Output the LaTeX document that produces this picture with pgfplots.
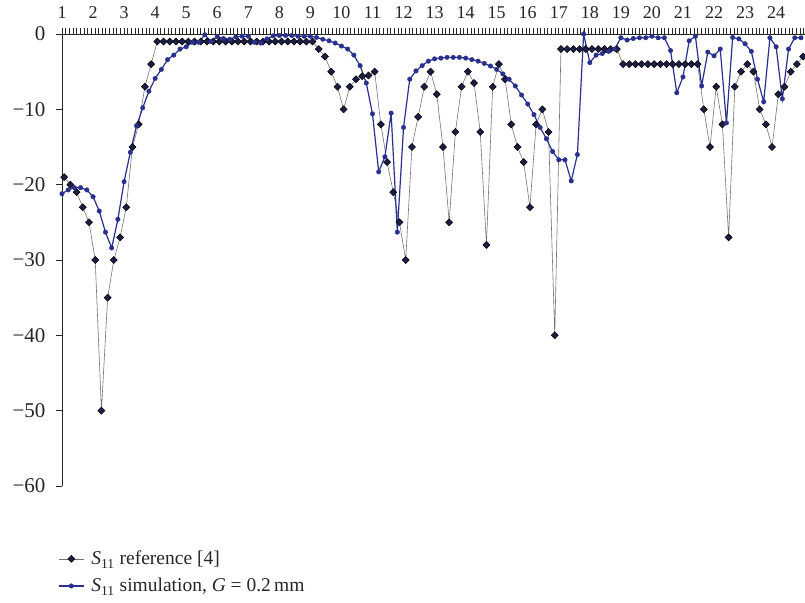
\documentclass[border=0pt]{standalone}
\usepackage{fontspec}
\setmainfont{Liberation Serif}
\usepackage{pgfplots}
\pgfplotsset{compat=1.18}
\definecolor{simblue}{RGB}{42,48,142}
\definecolor{refnavy}{RGB}{28,30,70}

\begin{document}
\begin{tikzpicture}
\useasboundingbox (0pt,0pt) rectangle (805pt,-602pt);
\begin{axis}[
    at={(62pt,-34pt)}, anchor=north west,
    scale only axis, width=743pt, height=452pt,
    xmin=1, xmax=24.93, ymin=-60, ymax=0,
    axis x line=top, axis y line=left,
    axis line style={-, black!85, line width=0.9pt},
    clip=false,
    tick align=outside,
    major tick length=6pt, minor tick length=6pt,
    tick style={black!85, line width=0.7pt},
    xtick={1,...,24}, major x tick style={draw=none},
    minor xtick={1,1.11765,...,24.93},
    ytick={-60,-50,...,0},
    yticklabels={−60,−50,−40,−30,−20,−10,0},
    /pgf/number format/assume math mode=true,
    xticklabel style={font=\fontsize{18}{18}\selectfont, color=black!85, yshift=6pt},
    yticklabel style={font=\fontsize{21}{21}\selectfont, color=black!85, xshift=-7pt},
    legend style={at={(-0.0094,-0.135)}, anchor=north west, draw=none, fill=none,
        font=\fontsize{19.5}{19.5}\selectfont, row sep=8pt, text=black!85,
        nodes={inner xsep=7pt}},
    legend cell align=left,
    legend image code/.code={
        \draw[mark repeat=2,mark phase=2,#1] plot coordinates {(0pt,0pt) (12.5pt,0pt) (25pt,0pt)};
    },
]
% reference data [4]
\addplot[black!55, line width=0.6pt, mark=square*,
    mark options={rotate=45, fill=refnavy, draw=black, line width=0.5pt, solid}, mark size=2.5pt]
coordinates {
(1.07,-19) (1.27,-20) (1.47,-21) (1.67,-23) (1.87,-25)
(2.07,-30) (2.27,-50) (2.47,-35) (2.67,-30) (2.87,-27)
(3.07,-23) (3.27,-15) (3.47,-12) (3.67,-7) (3.87,-4)
(4.07,-1) (4.27,-1) (4.47,-1) (4.67,-1) (4.87,-1)
(5.07,-1) (5.27,-1) (5.47,-1) (5.67,-1) (5.87,-1)
(6.07,-1) (6.27,-1) (6.47,-1) (6.67,-1) (6.87,-1)
(7.07,-1) (7.27,-1) (7.47,-1) (7.67,-1) (7.87,-1)
(8.07,-1) (8.27,-1) (8.47,-1) (8.67,-1) (8.87,-1)
(9.07,-1) (9.27,-2) (9.47,-3) (9.67,-5) (9.87,-7)
(10.07,-10) (10.27,-7) (10.47,-6) (10.67,-5.6) (10.87,-5.5)
(11.07,-5) (11.27,-12) (11.47,-17) (11.67,-21) (11.87,-25)
(12.07,-30) (12.27,-15) (12.47,-11) (12.67,-7) (12.87,-5)
(13.07,-8) (13.27,-15) (13.47,-25) (13.67,-13) (13.87,-7)
(14.07,-5) (14.27,-6.5) (14.47,-13) (14.67,-28) (14.87,-7)
(15.07,-4) (15.27,-6) (15.47,-12) (15.67,-15) (15.87,-17)
(16.07,-23) (16.27,-12) (16.47,-10) (16.67,-13) (16.87,-40)
(17.07,-2) (17.27,-2) (17.47,-2) (17.67,-2) (17.87,-2)
(18.07,-2) (18.27,-2) (18.47,-2) (18.67,-2) (18.87,-2)
(19.07,-4) (19.27,-4) (19.47,-4) (19.67,-4) (19.87,-4)
(20.07,-4) (20.27,-4) (20.47,-4) (20.67,-4) (20.87,-4)
(21.07,-4) (21.27,-4) (21.47,-4) (21.67,-10) (21.87,-15)
(22.07,-7) (22.27,-12) (22.47,-27) (22.67,-7) (22.87,-5)
(23.07,-4) (23.27,-5) (23.47,-10) (23.67,-12) (23.87,-15)
(24.07,-8) (24.27,-7) (24.47,-5) (24.67,-4) (24.87,-3)
};
\addlegendentry{\textit{S}\textsubscript{11} reference [4]}
% simulation, G = 0.2 mm
\addplot[simblue, line width=1.2pt, mark=*, mark size=2.3pt,
    mark options={fill=simblue, draw=simblue, line width=0.3pt}]
coordinates {
(1.0,-21.2) (1.2,-20.7) (1.4,-20.4) (1.6,-20.4) (1.8,-20.7)
(2.0,-21.6) (2.2,-23.5) (2.4,-26.3) (2.6,-28.4) (2.8,-24.6)
(3.0,-19.6) (3.2,-15.7) (3.4,-12.2) (3.6,-9.8) (3.8,-7.6)
(4.0,-5.9) (4.2,-4.7) (4.4,-3.4) (4.6,-2.8) (4.8,-2.0)
(5.0,-1.7) (5.2,-1.1) (5.4,-1.1) (5.6,-0.1) (5.8,-1.0)
(6.0,-0.35) (6.2,-0.6) (6.4,-0.7) (6.6,-0.4) (6.8,-0.3)
(7.0,-0.3) (7.2,-1.1) (7.4,-1.2) (7.6,-0.65) (7.8,-0.25)
(8.0,-0.2) (8.2,-0.2) (8.4,-0.2) (8.6,-0.3) (8.8,-0.3)
(9.0,-0.3) (9.2,-0.45) (9.4,-0.7) (9.6,-0.9) (9.8,-1.2)
(10.0,-1.6) (10.2,-2.0) (10.4,-2.8) (10.6,-4.2) (10.8,-6.5)
(11.0,-10.6) (11.2,-18.3) (11.4,-16.3) (11.6,-10.5) (11.8,-26.3)
(12.0,-12.4) (12.2,-6.0) (12.4,-4.9) (12.6,-4.2) (12.8,-3.6)
(13.0,-3.3) (13.2,-3.2) (13.4,-3.1) (13.6,-3.1) (13.8,-3.1)
(14.0,-3.2) (14.2,-3.4) (14.4,-3.6) (14.6,-3.9) (14.8,-4.25)
(15.0,-4.7) (15.2,-5.3) (15.4,-6.0) (15.6,-6.9) (15.8,-8.1)
(16.0,-9.3) (16.2,-10.7) (16.4,-12.4) (16.6,-13.9) (16.8,-15.6)
(17.0,-16.7) (17.2,-16.7) (17.4,-19.5) (17.6,-16.0) (17.8,0)
(18.0,-3.8) (18.2,-2.8) (18.4,-2.6) (18.6,-2.3) (18.8,-2.0)
(19.0,-0.5) (19.2,-0.8) (19.4,-0.6) (19.6,-0.5) (19.8,-0.5)
(20.0,-0.3) (20.2,-0.5) (20.4,-0.5) (20.6,-2.2) (20.8,-7.8)
(21.0,-5.7) (21.2,-0.9) (21.4,-0.3) (21.6,-6.9) (21.8,-2.4)
(22.0,-2.9) (22.2,-2.0) (22.4,-11.8) (22.6,-0.45) (22.8,-0.65)
(23.0,-1.3) (23.2,-2.3) (23.4,-6.0) (23.6,-9.0) (23.8,-0.5)
(24.0,-1.7) (24.2,-8.6) (24.4,-2.0) (24.6,-0.5) (24.8,-0.5)
};
\addlegendentry{\textit{S}\textsubscript{11} simulation, \textit{G} = 0.2\,mm}
\end{axis}
\end{tikzpicture}
\end{document}
